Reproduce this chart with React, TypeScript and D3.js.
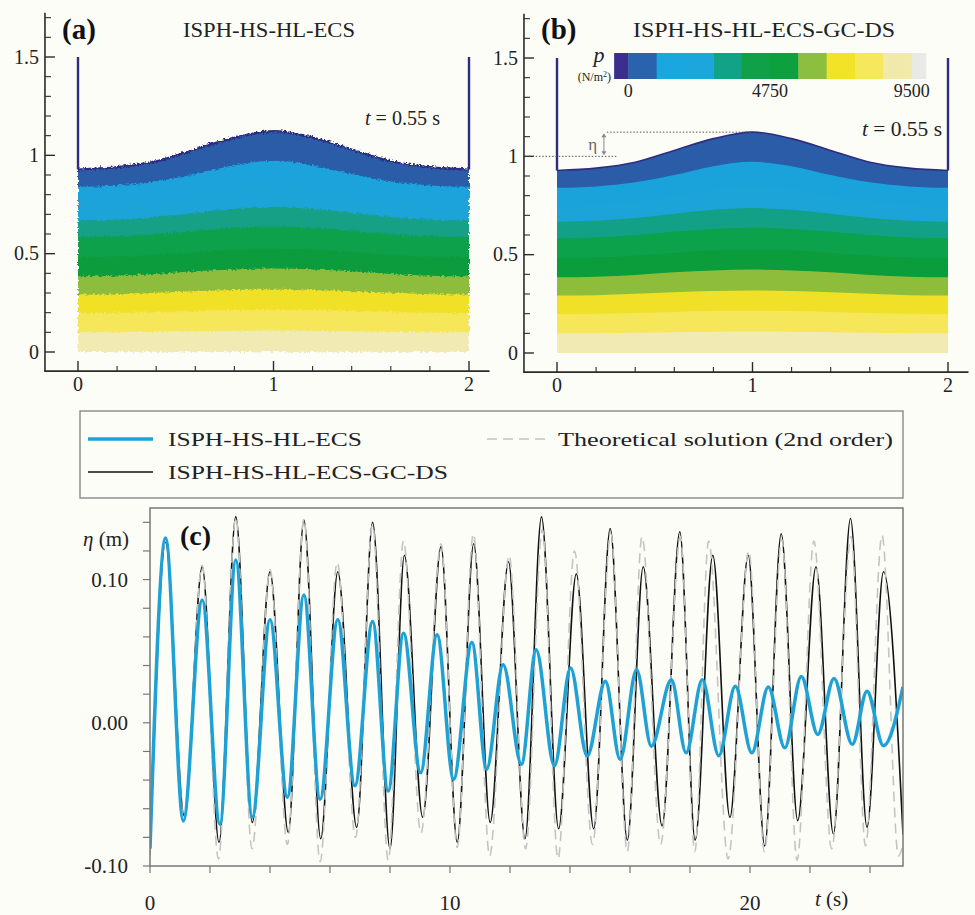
import React from "react";
import * as d3 from "d3";

// ---------- Panels (a)/(b): tank snapshot at t = 0.55 s ----------
const tankX = [0, 0.2, 0.4, 0.6, 0.8, 1.0, 1.2, 1.4, 1.6, 1.8, 2.0];
const surfaceEta = [0.928, 0.94, 0.97, 1.03, 1.09, 1.123, 1.09, 1.03, 0.97, 0.94, 0.928];
const iso950 = [0.84, 0.847, 0.868, 0.905, 0.95, 0.972, 0.95, 0.905, 0.868, 0.847, 0.84];
const iso1900 = [0.745, 0.75, 0.768, 0.798, 0.832, 0.848, 0.832, 0.798, 0.768, 0.75, 0.745];
const iso2850 = [0.668, 0.672, 0.686, 0.708, 0.728, 0.737, 0.728, 0.708, 0.686, 0.672, 0.668];
const iso3800 = [0.583, 0.587, 0.599, 0.616, 0.631, 0.637, 0.631, 0.616, 0.599, 0.587, 0.583];
const iso4750 = [0.482, 0.485, 0.495, 0.509, 0.521, 0.525, 0.521, 0.509, 0.495, 0.485, 0.482];
const iso5700 = [0.385, 0.388, 0.397, 0.41, 0.42, 0.424, 0.42, 0.41, 0.397, 0.388, 0.385];
const iso6650 = [0.292, 0.294, 0.301, 0.309, 0.315, 0.318, 0.315, 0.309, 0.301, 0.294, 0.292];
const iso7600 = [0.198, 0.2, 0.204, 0.209, 0.213, 0.215, 0.213, 0.209, 0.204, 0.2, 0.198];
const iso8550 = [0.1, 0.101, 0.103, 0.106, 0.108, 0.109, 0.108, 0.106, 0.103, 0.101, 0.1];
const bandColors = ["#2b5ca8", "#1aa3db", "#1ca4d8", "#12a086", "#0ca14b", "#0b9c3c", "#8ebd3c", "#f0e128", "#f5e65a", "#f1eab2"];

const yMajorTicks = [0, 0.5, 1, 1.5];
const yMajorLabels = ["0", "0.5", "1", "1.5"];
const xMajorTicks = [0, 1, 2];
const xMajorLabels = ["0", "1", "2"];

// colour bar
const cbLevels = [0, 950, 1900, 2850, 3800, 4750, 5700, 6650, 7600, 8550, 9500];
const cbColors = ["#3b2e8e", "#2b62ae", "#1aa6de", "#1ca6dc", "#12a287", "#0fa048", "#0da03f", "#8dbf3f", "#f2e329", "#f6e85c", "#f1e9aa", "#e9e9e6"];
const cbLabels = [0, 4750, 9500];

// ---------- Panel (c): free-surface elevation time history ----------
const ecsT = [0, 0.52, 1.11, 1.74, 2.33, 2.86, 3.41, 4.0, 4.58, 5.13, 5.67, 6.26, 6.83, 7.42, 7.94, 8.45, 9.02, 9.57, 10.12, 10.73, 11.22, 11.77, 12.38, 12.87, 13.48, 14.02, 14.57, 15.18, 15.67, 16.22, 16.71, 17.38, 17.87, 18.41, 18.96, 19.51, 20.06, 20.61, 21.16, 21.71, 22.26, 22.8, 23.41, 23.9, 24.45, 25.1];
const ecsEta = [-0.088, 0.129, -0.0685, 0.0858, -0.0708, 0.1136, -0.066, 0.0719, -0.052, 0.0893, -0.0534, 0.0719, -0.044, 0.0707, -0.0476, 0.0626, -0.0348, 0.0615, -0.0395, 0.056, -0.0324, 0.0406, -0.0289, 0.051, -0.03, 0.0383, -0.0232, 0.029, -0.0255, 0.037, -0.0163, 0.03, -0.021, 0.03, -0.023, 0.0255, -0.021, 0.025, -0.0174, 0.0324, -0.0081, 0.031, -0.015, 0.022, -0.016, 0.025];

const gcdsT = [0, 0.52, 1.14, 1.74, 2.3, 2.86, 3.41, 4.0, 4.61, 5.13, 5.69, 6.26, 6.89, 7.42, 8.0, 8.48, 9.09, 9.7, 10.24, 10.79, 11.34, 11.95, 12.5, 13.05, 13.62, 14.21, 14.79, 15.34, 15.91, 16.44, 17.07, 17.66, 18.17, 18.76, 19.33, 19.94, 20.49, 21.04, 21.59, 22.2, 22.78, 23.35, 23.9, 24.45, 25.1];
const gcdsEta = [-0.092, 0.126, -0.065, 0.109, -0.0835, 0.144, -0.0696, 0.1055, -0.0765, 0.1415, -0.081, 0.1055, -0.073, 0.14, -0.088, 0.117, -0.066, 0.123, -0.0835, 0.125, -0.0696, 0.1125, -0.081, 0.1438, -0.074, 0.104, -0.074, 0.1357, -0.082, 0.109, -0.072, 0.1334, -0.082, 0.117, -0.066, 0.117, -0.086, 0.132, -0.0683, 0.109, -0.0777, 0.1427, -0.073, 0.1055, -0.078];

const theoT = [0, 0.52, 1.14, 1.74, 2.28, 2.86, 3.4, 4.0, 4.58, 5.13, 5.67, 6.24, 6.85, 7.42, 7.94, 8.45, 9.03, 9.7, 10.24, 10.78, 11.32, 11.97, 12.52, 13.08, 13.6, 14.15, 14.75, 15.36, 15.91, 16.4, 17.02, 17.68, 18.16, 18.62, 19.27, 19.96, 20.48, 21.06, 21.57, 22.13, 22.72, 23.37, 23.85, 24.4, 24.95, 25.1];
const theoEta = [-0.093, 0.126, -0.068, 0.11, -0.095, 0.143, -0.088, 0.107, -0.085, 0.142, -0.097, 0.112, -0.08, 0.138, -0.096, 0.127, -0.077, 0.125, -0.087, 0.132, -0.093, 0.117, -0.088, 0.135, -0.095, 0.12, -0.085, 0.132, -0.09, 0.13, -0.085, 0.13, -0.09, 0.127, -0.095, 0.12, -0.09, 0.128, -0.096, 0.127, -0.088, 0.13, -0.086, 0.131, -0.093, -0.085];

const cYLabelTicks = [-0.1, 0, 0.1];
const cYLabels = ["-0.10", "0.00", "0.10"];
const cXLabelTicks = [0, 10, 20];
const cXLabels = ["0", "10", "20"];

const seriesNames = ["ISPH-HS-HL-ECS", "ISPH-HS-HL-ECS-GC-DS", "Theoretical solution (2nd order)"];

const FONT = "'Liberation Serif', 'Times New Roman', Times, serif";
const BG = "#fdfdf8";
const NAVY = "#2e2c7e";

type TankProps = {
  dx: number;
  dy: number;
  tag: string;
  title: string;
  titleX: number;
  titleLen: number;
  tX: number;
  tY: number;
  tLen: number;
  rough: boolean;
  annotate: boolean;
};

function TankPanel(p: TankProps) {
  const x = d3.scaleLinear().domain([0, 2]).range([78 + p.dx, 469 + p.dx]);
  const y = d3.scaleLinear().domain([0, 1.5]).range([352 + p.dy, 57 + p.dy]);
  const boundaries = [surfaceEta, iso950, iso1900, iso2850, iso3800, iso4750, iso5700, iso6650, iso7600, iso8550];
  const area = d3
    .area<number>()
    .x((_, j) => x(tankX[j]))
    .y0(y(0))
    .y1((d) => y(d))
    .curve(d3.curveMonotoneX);
  const line = d3
    .line<number>()
    .x((_, j) => x(tankX[j]))
    .y((d) => y(d))
    .curve(d3.curveMonotoneX);

  const axL = x(-0.169);
  const axR = x(2.105);
  const axB = y(-0.097);
  const axT = y(1.725);

  const yMinor: number[] = [];
  for (let k = 1; k <= 17; k++) if (k % 5 !== 0) yMinor.push(k / 10);
  const xMinor: number[] = [];
  for (let k = 1; k <= 9; k++) if (k % 5 !== 0) xMinor.push(k / 5);

  const peak = d3.max(surfaceEta) as number;

  return (
    <g>
      <g filter={p.rough ? "url(#rough)" : undefined}>
        {boundaries.map((b, i) => (
          <path key={i} d={area(b) || ""} fill={bandColors[i]} />
        ))}
        <path d={line(surfaceEta) || ""} fill="none" stroke={NAVY} strokeWidth={p.rough ? 2.2 : 1.6} />
      </g>
      {/* tank walls */}
      <line x1={x(0)} x2={x(0)} y1={y(1.5)} y2={y(surfaceEta[0])} stroke={NAVY} strokeWidth={2.4} />
      <line x1={x(2)} x2={x(2)} y1={y(1.5)} y2={y(surfaceEta[surfaceEta.length - 1])} stroke={NAVY} strokeWidth={2.4} />

      {/* axes */}
      <line x1={axL} x2={axL} y1={axT} y2={axB} stroke="#2a2a2a" strokeWidth={1.6} />
      <line x1={axL - 0.8} x2={axR} y1={axB} y2={axB} stroke="#2a2a2a" strokeWidth={1.6} />
      {yMajorTicks.map((v, i) => (
        <g key={"ym" + i}>
          <line x1={axL} x2={axL + 10} y1={y(v)} y2={y(v)} stroke="#2a2a2a" strokeWidth={1.4} />
          <text x={axL - 6} y={y(v) + 6.5} textAnchor="end" fontSize={20} fontFamily={FONT} fill="#222">
            {yMajorLabels[i]}
          </text>
        </g>
      ))}
      {yMinor.map((v, i) => (
        <line key={"yn" + i} x1={axL} x2={axL + 6} y1={y(v)} y2={y(v)} stroke="#2a2a2a" strokeWidth={1.1} />
      ))}
      {xMajorTicks.map((v, i) => (
        <g key={"xm" + i}>
          <line x1={x(v)} x2={x(v)} y1={axB} y2={axB - 10} stroke="#2a2a2a" strokeWidth={1.4} />
          <text x={x(v)} y={axB + 20} textAnchor="middle" fontSize={20} fontFamily={FONT} fill="#222">
            {xMajorLabels[i]}
          </text>
        </g>
      ))}
      {xMinor.map((v, i) => (
        <line key={"xn" + i} x1={x(v)} x2={x(v)} y1={axB} y2={axB - 5} stroke="#2a2a2a" strokeWidth={1.1} />
      ))}

      {/* labels */}
      <text x={62 + p.dx} y={39} fontSize={29} fontWeight="bold" fontFamily={FONT} fill="#111">
        {p.tag}
      </text>
      <text x={p.titleX} y={37} fontSize={20} fontFamily={FONT} fill="#222" textLength={p.titleLen} lengthAdjust="spacingAndGlyphs">
        {p.title}
      </text>
      <text x={p.tX} y={p.tY} fontSize={21} fontFamily={FONT} fill="#222" textLength={p.tLen} lengthAdjust="spacingAndGlyphs">
        <tspan fontStyle="italic">t</tspan> = 0.55 s
      </text>

      {p.annotate && (
        <g>
          <line x1={x(-0.16)} x2={x(0.31)} y1={y(1)} y2={y(1)} stroke="#555" strokeWidth={1} strokeDasharray="1.5,1.8" />
          <line x1={x(0.255)} x2={x(0.99)} y1={y(peak)} y2={y(peak)} stroke="#555" strokeWidth={1} strokeDasharray="1.5,1.8" />
          <line x1={x(0.24)} x2={x(0.24)} y1={y(1) - 3} y2={y(peak) + 3} stroke="#888" strokeWidth={1} />
          <path d={`M${x(0.24)},${y(peak) + 1} l-2.5,4 l5,0 z`} fill="#888" />
          <path d={`M${x(0.24)},${y(1) - 1} l-2.5,-4 l5,0 z`} fill="#888" />
          <text x={x(0.205)} y={y(1.03)} textAnchor="end" fontSize={17} fontFamily={FONT} fill="#666">
            η
          </text>
        </g>
      )}
    </g>
  );
}

function ColorBar() {
  const cb = d3.scaleLinear().domain([0, 9500]).range([628.3, 911.7]);
  const step = cbLevels[1] - cbLevels[0];
  const edges = [cbLevels[0] - step / 2, ...cbLevels, cbLevels[cbLevels.length - 1] + step / 2];
  return (
    <g>
      {cbColors.map((c, i) => (
        <rect key={i} x={cb(edges[i])} y={53} width={cb(edges[i + 1]) - cb(edges[i]) + 0.4} height={26} fill={c} />
      ))}
      {cbLabels.map((v, i) => (
        <text key={i} x={cb(v)} y={97} textAnchor="middle" fontSize={18} fontFamily={FONT} fill="#222">
          {v}
        </text>
      ))}
      <text x={599} y={62} textAnchor="middle" fontSize={22} fontStyle="italic" fontFamily={FONT} fill="#222">
        p
      </text>
      <text x={611} y={81} textAnchor="end" fontSize={12} fontFamily={FONT} fill="#222">
        (N/m<tspan fontSize={8} dy={-4}>2</tspan>
        <tspan dy={4}>)</tspan>
      </text>
    </g>
  );
}

function TimeSeries() {
  const x = d3.scaleLinear().domain([0, 25.1]).range([150, 903]);
  const y = d3.scaleLinear().domain([-0.1, 0.15]).range([866, 508]);
  const mk = (ts: number[]) =>
    d3
      .line<number>()
      .x((_, j) => x(ts[j]))
      .y((d) => y(d))
      .curve(d3.curveMonotoneX);
  const yTicks: number[] = [];
  for (let k = 0; k <= 12; k++) yTicks.push(-0.1 + 0.02 * k);
  const xTicks: number[] = [];
  for (let k = 0; k <= 12; k++) xTicks.push(2 * k);
  return (
    <g>
      {/* legend */}
      <rect x={80} y={411} width={823} height={87} fill={BG} stroke="#888" strokeWidth={1.4} />
      <line x1={88} x2={153} y1={439} y2={439} stroke="#1ea2d6" strokeWidth={3.5} />
      <line x1={88} x2={153} y1={472} y2={472} stroke="#111" strokeWidth={1.6} />
      <line x1={487} x2={545} y1={439} y2={439} stroke="#c2c2c2" strokeWidth={1.6} strokeDasharray="10,6" />
      <text x={168} y={446} fontSize={19} fontFamily={FONT} fill="#222" textLength={194} lengthAdjust="spacingAndGlyphs">
        {seriesNames[0]}
      </text>
      <text x={168} y={479} fontSize={19} fontFamily={FONT} fill="#222" textLength={280} lengthAdjust="spacingAndGlyphs">
        {seriesNames[1]}
      </text>
      <text x={558} y={446} fontSize={19} fontFamily={FONT} fill="#222" textLength={335} lengthAdjust="spacingAndGlyphs">
        {seriesNames[2]}
      </text>

      {/* plot frame */}
      <rect x={150} y={508} width={753} height={358} fill={BG} stroke="none" />
      <clipPath id="clipC">
        <rect x={150} y={508} width={753} height={358} />
      </clipPath>
      <g clipPath="url(#clipC)">
        <path d={mk(gcdsT)(gcdsEta) || ""} fill="none" stroke="#111" strokeWidth={1.6} />
        <path d={mk(theoT)(theoEta) || ""} fill="none" stroke="#c4c4c4" strokeWidth={1.6} strokeDasharray="10,6" />
        <path d={mk(ecsT)(ecsEta) || ""} fill="none" stroke="#1ea2d6" strokeWidth={3.5} strokeLinejoin="round" />
      </g>
      <rect x={150} y={508} width={753} height={358} fill="none" stroke="#777" strokeWidth={1.5} />

      {yTicks.map((v, i) => (
        <line key={"yt" + i} x1={150} x2={143} y1={y(v)} y2={y(v)} stroke="#777" strokeWidth={1.2} />
      ))}
      {xTicks.map((v, i) => (
        <line key={"xt" + i} x1={x(v)} x2={x(v)} y1={866} y2={873} stroke="#777" strokeWidth={1.2} />
      ))}
      {cYLabelTicks.map((v, i) => (
        <text key={"yl" + i} x={128} y={y(v) + 7} textAnchor="end" fontSize={21} fontFamily={FONT} fill="#222">
          {cYLabels[i]}
        </text>
      ))}
      {cXLabelTicks.map((v, i) => (
        <text key={"xl" + i} x={x(v)} y={910} textAnchor="middle" fontSize={21} fontFamily={FONT} fill="#222">
          {cXLabels[i]}
        </text>
      ))}
      <text x={815} y={906} fontSize={21} fontFamily={FONT} fill="#222">
        <tspan fontStyle="italic">t</tspan> (s)
      </text>
      <text x={83} y={546} fontSize={21} fontFamily={FONT} fill="#222">
        <tspan fontStyle="italic">η</tspan> (m)
      </text>
      <text x={180} y={545} fontSize={28} fontWeight="bold" fontFamily={FONT} fill="#111">
        (c)
      </text>
    </g>
  );
}

export default function App() {
  return (
    <svg
      width={975}
      height={915}
      viewBox="0 0 975 915"
      style={{ position: "absolute", left: 0, top: 0, display: "block", background: BG }}
    >
      <defs>
        <filter id="rough" x="-3%" y="-3%" width="106%" height="106%">
          <feTurbulence type="fractalNoise" baseFrequency="0.45" numOctaves={2} seed={3} result="n" />
          <feDisplacementMap in="SourceGraphic" in2="n" scale={5} xChannelSelector="R" yChannelSelector="G" />
        </filter>
      </defs>
      <rect x={0} y={0} width={975} height={915} fill={BG} />
      <TankPanel dx={0} dy={0} tag="(a)" title="ISPH-HS-HL-ECS" titleX={183} titleLen={172} tX={365} tY={125} tLen={75} rough={true} annotate={false} />
      <TankPanel dx={479} dy={1} tag="(b)" title="ISPH-HS-HL-ECS-GC-DS" titleX={633} titleLen={262} tX={862} tY={136} tLen={80} rough={false} annotate={true} />
      <ColorBar />
      <TimeSeries />
    </svg>
  );
}
